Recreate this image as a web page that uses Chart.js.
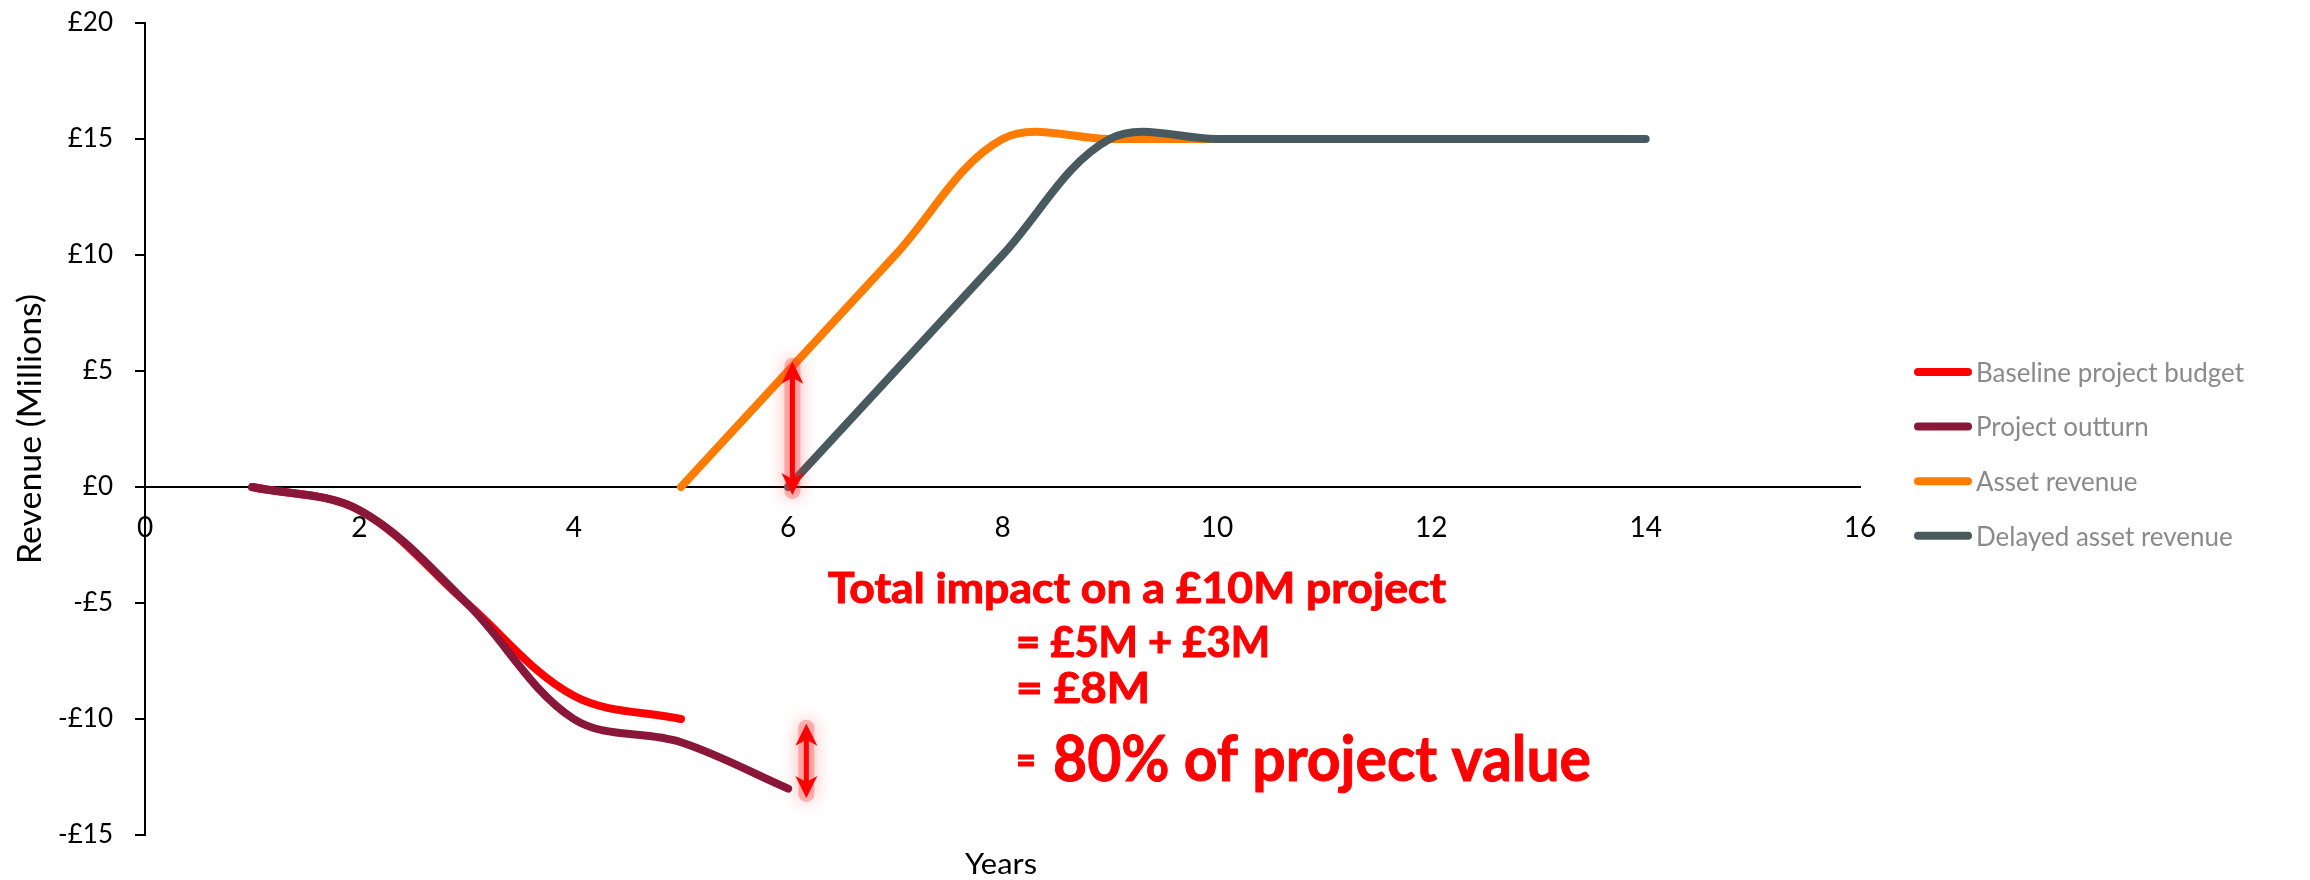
<!DOCTYPE html>
<html>
<head>
<meta charset="utf-8">
<title>Revenue impact</title>
<script src="https://cdn.jsdelivr.net/npm/chart.js@4.4.1/dist/chart.umd.min.js"></script>
<style>
  html, body { margin: 0; padding: 0; background: #fff; }
</style>
</head>
<body>
<canvas id="myChart" width="2310" height="880"></canvas>
<script>
// values (x = years, y = £ millions)
const seriesNames = ['Baseline project budget', 'Project outturn', 'Asset revenue', 'Delayed asset revenue'];
const seriesColors = ['#ff0000', '#88173a', '#ff7c00', '#485a5f'];

const baselineYears = [1, 2, 3, 4, 5];
const baselineValues = [0, -1, -5, -9, -10];

const outturnYears = [1, 2, 3, 4, 5, 6];
const outturnValues = [0, -1, -5, -10, -11, -13];

const assetYears = [5, 6, 7, 8, 9, 10];
const assetValues = [0, 5, 10, 15, 15, 15];

const delayedYears = [6, 7, 8, 9, 10, 11, 12, 13, 14];
const delayedValues = [0, 5, 10, 15, 15, 15, 15, 15, 15];

// red double arrows (year, top value, bottom value)
const arrowYears = [6.04, 6.17];
const arrowTops = [5.4, -10.2];
const arrowBottoms = [-0.35, -13.4];

const noteLines = ['Total impact on a £10M project', '= £5M + £3M', '= £8M', '=', '80% of project value'];

function pairs(xs, ys) {
  return xs.map((x, i) => ({ x: x, y: ys[i] }));
}

// draw text stretched / squeezed to a given width (the original font is narrower than Lato)
function fitText(ctx, text, x, y, width, stroke) {
  const w = ctx.measureText(text).width;
  ctx.save();
  ctx.translate(x, y);
  ctx.scale(width / w, 1);
  ctx.fillText(text, 0, 0);
  if (stroke) {
    ctx.lineWidth = stroke;
    ctx.strokeText(text, 0, 0);
  }
  ctx.restore();
}

function arrowPath(ctx, x, yTop, yBot, head, half) {
  ctx.beginPath();
  ctx.moveTo(x, yTop);
  ctx.lineTo(x + half, yTop + head + 2);
  ctx.lineTo(x, yTop + head - 4);
  ctx.lineTo(x - half, yTop + head + 2);
  ctx.closePath();
  ctx.moveTo(x, yBot);
  ctx.lineTo(x + half, yBot - head - 2);
  ctx.lineTo(x, yBot - head + 4);
  ctx.lineTo(x - half, yBot - head - 2);
  ctx.closePath();
}

function drawArrow(ctx, x, yTop, yBot) {
  const head = 20, half = 11;
  // soft glow
  ctx.save();
  ctx.strokeStyle = 'rgba(255,60,60,0.35)';
  ctx.shadowColor = 'rgba(255,0,0,0.8)';
  ctx.shadowBlur = 18;
  ctx.lineWidth = 16;
  ctx.lineCap = 'round';
  ctx.beginPath();
  ctx.moveTo(x, yTop + 4);
  ctx.lineTo(x, yBot - 4);
  ctx.stroke();
  ctx.restore();
  // solid arrow
  ctx.save();
  ctx.strokeStyle = '#ff0000';
  ctx.fillStyle = '#ff0000';
  ctx.lineWidth = 5;
  ctx.beginPath();
  ctx.moveTo(x, yTop + head - 4);
  ctx.lineTo(x, yBot - head + 4);
  ctx.stroke();
  arrowPath(ctx, x, yTop, yBot, head, half);
  ctx.fill();
  ctx.restore();
}

const overlay = {
  id: 'overlay',
  afterDatasetsDraw(chart) {
    const ctx = chart.ctx;
    const xs = chart.scales.x, ys = chart.scales.y;

    arrowYears.forEach((yr, i) => {
      drawArrow(ctx, xs.getPixelForValue(yr), ys.getPixelForValue(arrowTops[i]), ys.getPixelForValue(arrowBottoms[i]));
    });

    // annotation text
    ctx.save();
    ctx.fillStyle = '#ff0000';
    ctx.strokeStyle = '#ff0000';
    ctx.textAlign = 'left';
    ctx.textBaseline = 'alphabetic';
    ctx.font = 'bold 42px Lato';
    fitText(ctx, noteLines[0], 828, 603, 618, 1);
    fitText(ctx, noteLines[1], 1016, 657, 254, 1);
    fitText(ctx, noteLines[2], 1016, 703, 134, 1);
    fitText(ctx, noteLines[3], 1016, 775, 20, 1);
    ctx.font = 'bold 63px Lato';
    fitText(ctx, noteLines[4], 1053, 781, 538, 1);
    ctx.restore();

    // axis titles
    ctx.save();
    ctx.fillStyle = '#000';
    ctx.textAlign = 'center';
    ctx.font = '28px Lato';
    fitText(ctx, 'Years', 1001, 874, 72);
    ctx.translate(30, 429);
    ctx.rotate(-Math.PI / 2);
    ctx.textBaseline = 'middle';
    ctx.font = '33px Lato';
    fitText(ctx, 'Revenue (Millions)', 0, 0, 270);
    ctx.restore();

    // legend
    ctx.save();
    ctx.font = '27px Lato';
    const squeeze = Math.min(1, 268 / ctx.measureText(seriesNames[0]).width);
    chart.data.datasets.forEach((ds, i) => {
      const y = 372 + i * 54.6;
      ctx.strokeStyle = ds.borderColor;
      ctx.lineWidth = 8;
      ctx.lineCap = 'round';
      ctx.beginPath();
      ctx.moveTo(1918, y);
      ctx.lineTo(1968, y);
      ctx.stroke();
      ctx.save();
      ctx.translate(1976, y);
      ctx.scale(squeeze, 1);
      ctx.fillStyle = '#8a8a8a';
      ctx.textBaseline = 'middle';
      ctx.fillText(ds.label, 0, 1);
      ctx.restore();
    });
    ctx.restore();
  }
};

const allSeries = [
  pairs(baselineYears, baselineValues),
  pairs(outturnYears, outturnValues),
  pairs(assetYears, assetValues),
  pairs(delayedYears, delayedValues)
];

let ctx = document.getElementById('myChart');
let myChart = new Chart(ctx, {
  type: 'line',
  data: {
    datasets: allSeries.map((d, i) => ({
      label: seriesNames[i],
      data: d,
      borderColor: seriesColors[i],
      backgroundColor: seriesColors[i],
      borderWidth: 8,
      borderCapStyle: 'round',
      borderJoinStyle: 'round',
      pointRadius: 0,
      tension: 0.35,
      fill: false,
      order: 4 - i
    }))
  },
  options: {
    responsive: false,
    animation: false,
    devicePixelRatio: 1,
    layout: { padding: { left: 0, top: 23, right: 450, bottom: 45 } },
    plugins: {
      legend: { display: false },
      tooltip: { enabled: false }
    },
    scales: {
      x: {
        type: 'linear',
        position: { y: 0 },
        min: 0,
        max: 16,
        ticks: {
          stepSize: 2,
          color: '#000',
          font: { family: 'Lato', size: 28 },
          padding: 24
        },
        grid: { display: false, drawTicks: false },
        border: { display: true, color: '#000', width: 2 }
      },
      y: {
        min: -15,
        max: 20,
        afterFit: s => { s.width = 145; s.paddingTop = 0; s.paddingBottom = 0; },
        ticks: {
          stepSize: 5,
          color: '#000',
          font: { family: 'Lato', size: 26 },
          padding: 22,
          callback: v => (v < 0 ? '-' : '') + '£' + Math.abs(v)
        },
        grid: { drawOnChartArea: false, drawTicks: true, tickLength: 10, color: '#000', lineWidth: 2 },
        border: { display: true, color: '#000', width: 2 }
      }
    }
  },
  plugins: [overlay]
});
</script>
</body>
</html>
